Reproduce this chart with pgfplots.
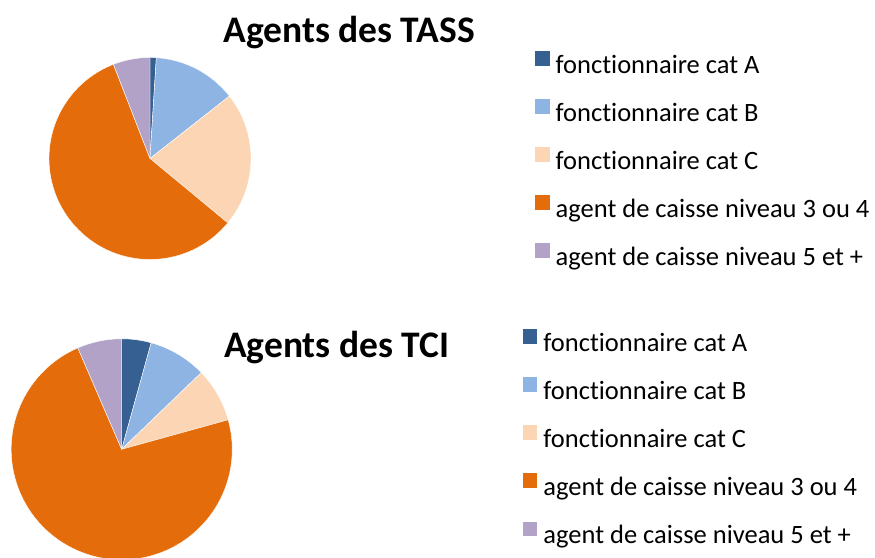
\documentclass[border=0pt]{standalone}
\usepackage{fontspec}
\setmainfont{Carlito}[Ligatures=NoCommon, Contextuals=NoAlternate]
\usepackage{pgfplots}
\usepackage{pgfplotstable}
\pgfplotsset{compat=1.18}

\definecolor{pc0}{HTML}{366092}
\definecolor{pc1}{HTML}{8EB4E3}
\definecolor{pc2}{HTML}{FCD5B5}
\definecolor{pc3}{HTML}{E46C0A}
\definecolor{pc4}{HTML}{B3A2C7}

% shares in percent, clockwise from 12 o'clock
\pgfplotstableread{
cat val
A 1.0
B 13.4
C 21.6
D 58.1
E 5.9
}\tass

\pgfplotstableread{
cat val
A 4.3
B 8.5
C 7.9
D 72.8
E 6.5
}\tci

% #1 table, #2 #3 centre (axis units), #4 radius in pt
\newcommand\drawpie[4]{%
  \gdef\cum{0}%
  \pgfplotstableforeachcolumnelement{val}\of#1\as\v{%
    \pgfmathsetmacro\aS{90-3.6*\cum}%
    \pgfmathsetmacro\cumn{\cum+\v}%
    \xdef\cum{\cumn}%
    \pgfmathsetmacro\aE{90-3.6*\cum}%
    \edef\col{pc\pgfplotstablerow}%
    \fill[fill=\col, draw=white, line width=0.4pt] (axis cs:#2,#3) -- ++(\aS:#4pt)
      arc[start angle=\aS, end angle=\aE, radius=#4pt] -- cycle;
  }%
}

\tikzset{titlefont/.style={font=\fontsize{37.5}{44}\selectfont\bfseries, inner sep=0pt}}

\pgfplotsset{
  pieframe/.style={
    at={(0,0)}, anchor=south west,
    scale only axis, width=875pt, height=557pt,
    xmin=0, xmax=875, ymin=0, ymax=557,
    hide axis, clip=false,
    legend cell align=left,
    legend style={anchor=north west, draw=none, fill=none,
      inner sep=0pt, outer sep=0pt, row sep=19.9pt, column sep=6pt,
      font=\fontsize{26.5}{31}\selectfont,
      nodes={inner sep=0pt, text height=19pt, text depth=6pt}},
  },
  pie legend/.style={legend image code/.code={%
    \fill[##1, draw=none] (0pt,1pt) rectangle (14.7pt,15.7pt);}},
}

\begin{document}
\begin{tikzpicture}
\useasboundingbox (0,0) rectangle (875pt,557pt);
\clip (0,0) rectangle (875pt,557pt);

\begin{axis}[pieframe, legend style={at={(0.6114,0.9085)}}]
\pgfplotsextra{\drawpie{\tass}{150}{398.5}{101}}
\node[titlefont, anchor=base] at (axis cs:349,514) {Agents des TASS};
\addlegendimage{pie legend, fill=pc0}\addlegendentry{fonctionnaire cat A}
\addlegendimage{pie legend, fill=pc1}\addlegendentry{fonctionnaire cat B}
\addlegendimage{pie legend, fill=pc2}\addlegendentry{fonctionnaire cat C}
\addlegendimage{pie legend, fill=pc3}\addlegendentry{agent de caisse niveau 3 ou 4}
\addlegendimage{pie legend, fill=pc4}\addlegendentry{agent de caisse niveau 5 et +}
\end{axis}

\begin{axis}[pieframe, legend style={at={(0.5974,0.4090)}}]
\pgfplotsextra{\drawpie{\tci}{121.7}{107.7}{110.5}}
\node[titlefont, anchor=base] at (axis cs:336.7,199) {Agents des TCI};
\addlegendimage{pie legend, fill=pc0}\addlegendentry{fonctionnaire cat A}
\addlegendimage{pie legend, fill=pc1}\addlegendentry{fonctionnaire cat B}
\addlegendimage{pie legend, fill=pc2}\addlegendentry{fonctionnaire cat C}
\addlegendimage{pie legend, fill=pc3}\addlegendentry{agent de caisse niveau 3 ou 4}
\addlegendimage{pie legend, fill=pc4}\addlegendentry{agent de caisse niveau 5 et +}
\end{axis}
\end{tikzpicture}
\end{document}
